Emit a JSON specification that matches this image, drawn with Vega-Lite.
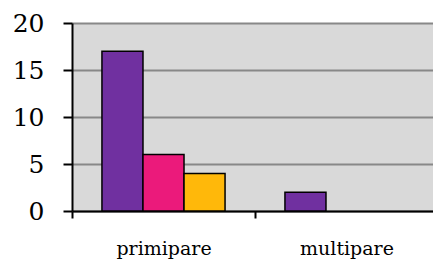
{
  "$schema": "https://vega.github.io/schema/vega-lite/v6.json",
  "width": 361,
  "height": 188,
  "autosize": {"type": "none"},
  "padding": {"left": 72, "top": 23, "right": 0, "bottom": 52},
  "data": {
    "values": [
      {"group": "primipare", "series": "A", "value": 17},
      {"group": "primipare", "series": "B", "value": 6},
      {"group": "primipare", "series": "C", "value": 4},
      {"group": "multipare", "series": "A", "value": 2}
    ]
  },
  "mark": {"type": "bar", "stroke": "black", "strokeWidth": 1.5},
  "encoding": {
    "x": {
      "field": "group",
      "type": "nominal",
      "sort": ["primipare", "multipare"],
      "scale": {"paddingInner": 0, "paddingOuter": 0, "range": [0, 366]},
      "axis": {
        "title": null,
        "labelAngle": 0,
        "labelFont": "DejaVu Serif",
        "labelFontSize": 19,
        "labelColor": "black",
        "labelPadding": 21,
        "tickBand": "extent",
        "tickSize": 7,
        "tickColor": "black",
        "tickWidth": 2,
        "domainColor": "black",
        "domainWidth": 2,
        "grid": false
      }
    },
    "xOffset": {
      "field": "series",
      "type": "nominal",
      "scale": {"domain": ["A", "B", "C"], "paddingOuter": 0.73, "paddingInner": 0}
    },
    "y": {
      "field": "value",
      "type": "quantitative",
      "scale": {"domain": [0, 20], "nice": false},
      "axis": {
        "title": null,
        "values": [0, 5, 10, 15, 20],
        "labelFont": "DejaVu Serif",
        "labelFontSize": 25,
        "labelColor": "black",
        "labelPadding": 19,
        "tickSize": 9,
        "tickColor": "black",
        "tickWidth": 2,
        "domainColor": "black",
        "domainWidth": 2,
        "grid": true,
        "gridColor": "#888888",
        "gridWidth": 2
      }
    },
    "color": {
      "field": "series",
      "type": "nominal",
      "scale": {"domain": ["A", "B", "C"], "range": ["#7030a0", "#eb1a7b", "#ffb80a"]},
      "legend": null
    }
  },
  "config": {
    "view": {"fill": "#d9d9d9", "stroke": null}
  }
}
